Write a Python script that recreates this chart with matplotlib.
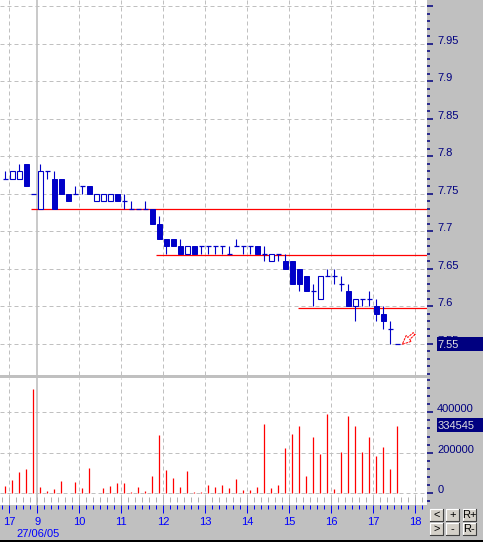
import numpy as np
import matplotlib.pyplot as plt
from matplotlib.patches import Rectangle
from matplotlib.lines import Line2D
from matplotlib.ticker import MultipleLocator

plt.rcParams['font.family'] = ['Liberation Sans', 'DejaVu Sans']

# Dane: swiece 10-minutowe (open, high, low, close) i wolumen
opens = np.array([7.77, 7.77, 7.77, 7.79, 7.75, 7.73, 7.78, 7.77, 7.77, 7.75,
                  7.75, 7.76, 7.76, 7.74, 7.74, 7.74, 7.75, 7.74, 7.73, 7.73,
                  7.73, 7.73, 7.71, 7.69, 7.69, 7.68, 7.67, 7.68, 7.68, 7.68,
                  7.68, 7.68, 7.67, 7.68, 7.68, 7.68, 7.68, 7.67, 7.66, 7.67,
                  7.66, 7.66, 7.65, 7.64, 7.62, 7.61, 7.64, 7.64, 7.63, 7.62,
                  7.60, 7.61, 7.61, 7.60, 7.59, 7.57, 7.55])
highs = np.array([7.78, 7.78, 7.79, 7.79, 7.75, 7.79, 7.78, 7.78, 7.77, 7.75,
                  7.76, 7.76, 7.76, 7.75, 7.75, 7.75, 7.75, 7.75, 7.74, 7.73,
                  7.74, 7.73, 7.72, 7.69, 7.69, 7.69, 7.68, 7.68, 7.68, 7.68,
                  7.68, 7.68, 7.68, 7.69, 7.68, 7.68, 7.68, 7.68, 7.67, 7.67,
                  7.67, 7.66, 7.65, 7.64, 7.63, 7.64, 7.65, 7.65, 7.64, 7.63,
                  7.61, 7.61, 7.62, 7.61, 7.60, 7.58, 7.55])
lows = np.array([7.77, 7.77, 7.77, 7.76, 7.75, 7.73, 7.77, 7.73, 7.75, 7.74,
                 7.75, 7.75, 7.75, 7.74, 7.74, 7.74, 7.74, 7.73, 7.73, 7.73,
                 7.73, 7.71, 7.69, 7.67, 7.68, 7.67, 7.67, 7.67, 7.67, 7.67,
                 7.67, 7.67, 7.67, 7.68, 7.67, 7.67, 7.67, 7.66, 7.66, 7.66,
                 7.65, 7.63, 7.62, 7.62, 7.60, 7.61, 7.64, 7.63, 7.62, 7.60,
                 7.58, 7.60, 7.60, 7.58, 7.57, 7.55, 7.55])
closes = np.array([7.77, 7.78, 7.78, 7.76, 7.75, 7.78, 7.78, 7.73, 7.75, 7.74,
                   7.75, 7.76, 7.75, 7.75, 7.75, 7.75, 7.74, 7.74, 7.73, 7.73,
                   7.73, 7.71, 7.69, 7.68, 7.68, 7.67, 7.68, 7.67, 7.68, 7.68,
                   7.68, 7.68, 7.67, 7.68, 7.68, 7.68, 7.67, 7.67, 7.67, 7.67,
                   7.65, 7.63, 7.63, 7.62, 7.62, 7.64, 7.64, 7.64, 7.63, 7.60,
                   7.61, 7.61, 7.61, 7.59, 7.58, 7.57, 7.55])
volumes = np.array([36000, 66000, 105000, 120000, 515000, 31000, 11000, 21000, 61000, 2000,
                    56000, 26000, 125000, 3000, 26000, 36000, 51000, 51000, 6500, 31000,
                    11000, 85000, 288000, 115000, 75000, 31000, 110000, 6500, 6500, 41000,
                    31000, 41000, 26000, 70000, 16000, 16000, 31000, 342000, 26000, 41000,
                    224000, 293000, 332000, 85000, 278000, 194000, 392000, 21000, 204000, 382000,
                    332000, 204000, 278000, 184000, 229000, 120000, 334545])

# linie wsparcia: poziom i indeks swiecy, od ktorej linia startuje
support_levels = [7.729, 7.668, 7.5976]
support_start = [3.67, 21.46, 41.86]

# godziny na osi x (pozycje w jednostkach swiec)
hour_labels = ['17', '9', '10', '11', '12', '13', '14', '15', '16', '17', '18']
hour_pos = np.array([0, 4, 10, 16, 22, 28, 34, 40, 46, 52, 58]) + 0.571
date_label = '27/06/05'

price_ticks = [7.55, 7.6, 7.65, 7.7, 7.75, 7.8, 7.85, 7.9, 7.95, 8.0]
price_labels = ['7.55', '7.6', '7.65', '7.7', '7.75', '7.8', '7.85', '7.9', '7.95', '']
vol_ticks = [0, 200000, 400000]
vol_labels = ['0', '200000', '400000']
last_price = '7.55'
last_volume = '334545'

BLUE = '#0000c8'
NAVY = '#000080'
AXBLUE = '#0000ff'
GRID = '#c0c0c0'

W, H = 483, 542
fig = plt.figure(figsize=(W / 100, H / 100), dpi=100, facecolor='#c0c0c0')


def px_axes(l, t, r, b):
    return fig.add_axes([l / W, 1 - b / H, (r - l) / W, (b - t) / H])


def fx(x):
    return x / W


def fy(y):
    return 1 - y / H


ax = px_axes(0, 0, 427, 375)
axv = px_axes(0, 378, 427, 505)

x = np.arange(len(opens))
xlim = (-0.757, 60.243)

# --- wykres cenowy ---
up = closes > opens + 1e-9
down = closes < opens - 1e-9
flat = ~(up | down)

ax.vlines(x, lows, highs, color=BLUE, lw=0.8, zorder=3)
ax.bar(x[down], (opens - closes)[down], bottom=closes[down], width=0.72,
       color=BLUE, edgecolor=BLUE, lw=0.7, zorder=4)
ax.bar(x[up], (closes - opens)[up], bottom=opens[up], width=0.72,
       facecolor='white', edgecolor=BLUE, lw=0.8, zorder=4)
ax.hlines(closes[flat], x[flat] - 0.36, x[flat] + 0.36, color=BLUE, lw=0.9, zorder=4)

ax.hlines(support_levels, support_start, xlim[1], color='red', lw=0.9, zorder=2)

# strzalka przy ostatniej cenie
ax.annotate('', xy=(56.71, 7.5492), xytext=(58.4, 7.5635),
            arrowprops=dict(arrowstyle='simple,head_length=0.45,head_width=0.4,tail_width=0.14',
                            fc='none', ec='red', lw=0.7, ls=(0, (2, 1.5)), mutation_scale=14,
                            shrinkA=0, shrinkB=0), zorder=5)

ax.set_xlim(xlim)
ax.set_ylim(7.5083, 8.0083)
ax.set_yticks(price_ticks)
ax.set_yticklabels(price_labels)
ax.yaxis.set_minor_locator(MultipleLocator(0.01))

# --- wolumen ---
axv.vlines(x, 0, volumes, color='#ff0000', lw=0.9, zorder=3)
axv.set_xlim(xlim)
axv.set_ylim(-57800, 569000)
axv.set_yticks(vol_ticks)
axv.set_yticklabels(vol_labels)
axv.yaxis.set_minor_locator(MultipleLocator(40000))
axv.set_xticks(hour_pos)
axv.set_xticklabels(hour_labels)
axv.set_xticks(np.arange(-0.429, 60.3, 1.0), minor=True)
axv.vlines(np.arange(-0.429, 60.3, 1.0), 0.024, 0.063,
           transform=axv.get_xaxis_transform(), color='#b0b0b0', lw=0.72)

for a in (ax, axv):
    a.set_facecolor('white')
    for s in a.spines.values():
        s.set_visible(False)
    a.yaxis.tick_right()
    a.yaxis.grid(True, which='major', ls=(0, (4, 3)), color=GRID, lw=0.72)
    a.tick_params(axis='y', which='major', direction='out', length=4.3, width=1.1,
                  color=NAVY, labelcolor=NAVY, labelsize=8, pad=3)
    a.tick_params(axis='y', which='minor', direction='out', length=1.8, width=1.1, color=NAVY)
    # pionowe linie godzin, dzien rozdziela linia ciagla
    a.vlines(np.delete(hour_pos, 1), 0, 1, transform=a.get_xaxis_transform(),
             color=GRID, lw=0.72, ls=(0, (4, 3)), zorder=1)
    a.axvline(hour_pos[1], color=GRID, lw=1.2, zorder=1)
    plt.setp(a.get_yticklabels(), va='baseline')

ax.tick_params(axis='x', which='both', bottom=False, labelbottom=False)
axv.tick_params(axis='x', which='major', direction='out', length=5.8, width=0.72,
                color=AXBLUE, labelcolor=AXBLUE, labelsize=8, pad=2.5)
axv.tick_params(axis='x', which='minor', direction='out', length=3.1, width=0.72, color=AXBLUE)

fig.text(fx(16), fy(537), date_label, color=AXBLUE, fontsize=8, va='baseline')

# podswietlone ostatnie wartosci
fig.add_artist(Rectangle((fx(437), fy(351)), fx(46), 14.3 / H, transform=fig.transFigure,
                         facecolor=NAVY, edgecolor='none', zorder=2))
fig.text(fx(437.5), fy(348.3), last_price, color='#e0e0e0', fontsize=8, va='baseline', zorder=3)
fig.add_artist(Rectangle((fx(436.7), fy(431.7)), fx(46.3), 13.4 / H, transform=fig.transFigure,
                         facecolor=NAVY, edgecolor='none', zorder=2))
fig.text(fx(437.5), fy(429.3), last_volume, color='#e0e0e0', fontsize=8, va='baseline', zorder=3)

# przyciski w prawym dolnym rogu
buttons = [('<', 430, 509.3), ('+', 446, 509.3), ('R+', 462.7, 509.3),
           ('>', 430, 522.7), ('-', 446, 522.7), ('R-', 462.7, 522.7)]
for label, bx, by in buttons:
    bw, bh = 13.3, 12.0
    fig.add_artist(Rectangle((fx(bx), fy(by + bh)), fx(bw), bh / H, transform=fig.transFigure,
                             facecolor='#d4d0c8', edgecolor='none', zorder=2))
    fig.add_artist(Line2D([fx(bx), fx(bx), fx(bx + bw)], [fy(by + bh), fy(by), fy(by)],
                          transform=fig.transFigure, color='white', lw=0.8, zorder=3))
    fig.add_artist(Line2D([fx(bx), fx(bx + bw), fx(bx + bw)], [fy(by + bh), fy(by + bh), fy(by)],
                          transform=fig.transFigure, color='#404040', lw=0.8, zorder=3))
    fig.text(fx(bx + bw / 2), fy(by + bh / 2), label, color='black', fontsize=8,
             ha='center', va='center', zorder=4)

fig.add_artist(Rectangle((0, 0), 1, 2 / H, transform=fig.transFigure,
                         facecolor='black', edgecolor='none', zorder=2))

fig.savefig('out.png', dpi=100, facecolor=fig.get_facecolor())
